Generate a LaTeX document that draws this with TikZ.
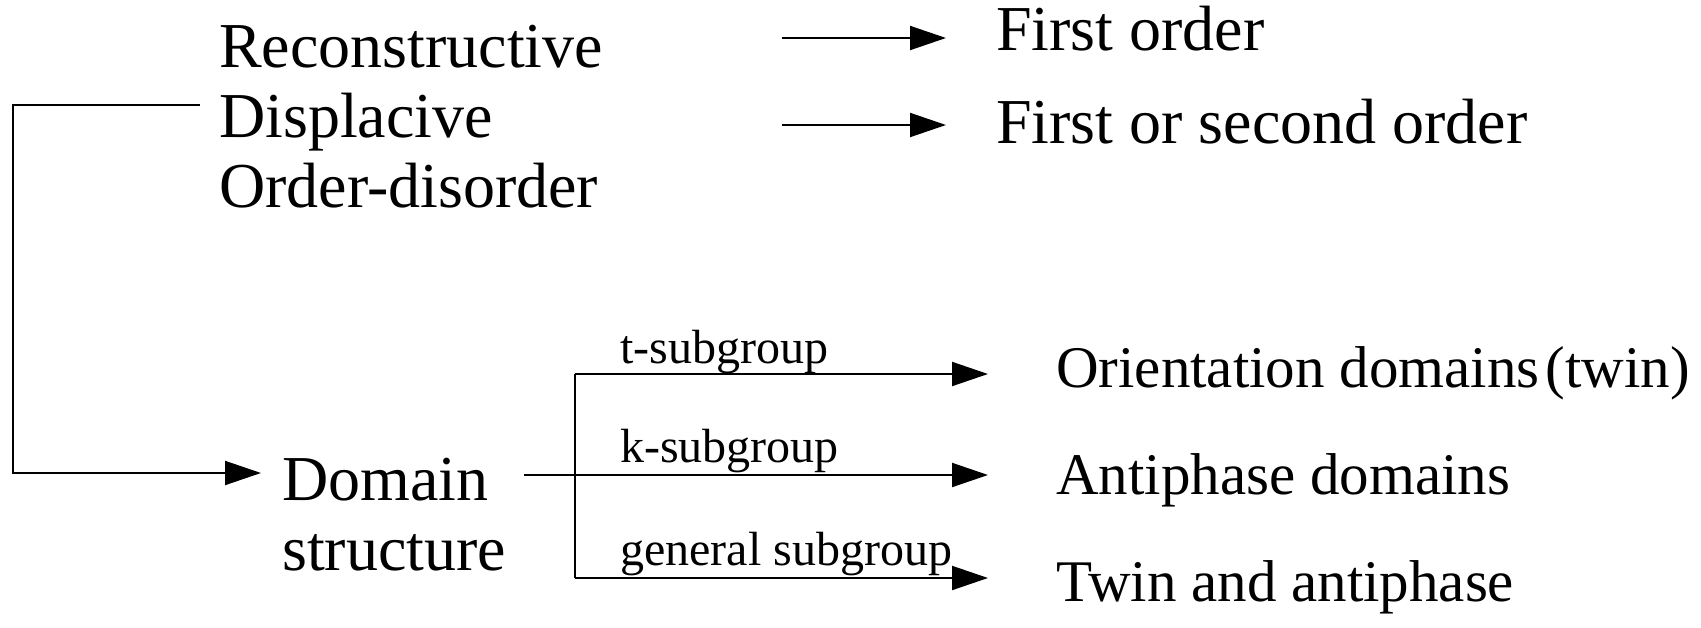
\documentclass[tikz,border=0pt]{standalone}
\usepackage{fontspec}
\setmainfont{Liberation Serif}
\usetikzlibrary{arrows.meta}
\begin{document}
\begin{tikzpicture}[x=1pt,y=-1pt,
  big/.style={anchor=base west,inner sep=0pt,font=\fontsize{64}{70}\selectfont},
  mid/.style={anchor=base west,inner sep=0pt,font=\fontsize{59}{66}\selectfont},
  small/.style={anchor=base west,inner sep=0pt,font=\fontsize{48}{52}\selectfont},
  conn/.style={line width=2pt},
  arr/.style={line width=2pt,-{Triangle[length=36pt,width=24pt]}}]
\useasboundingbox (0,0) rectangle (1701,627);
% left column
\node[big] (rec) at (219,67) {Reconstructive};
\node[big] (dis) at (219,137) {Displacive};
\node[big] (ord) at (219,207) {Order-disorder};
% top right
\node[big] (fo) at (996,50) {First order};
\node[big] (fso) at (996,143) {First or second order};
% domain structure
\node[big] (dom) at (282,500) {Domain};
\node[big] (str) at (282,570) {structure};
% right bottom
\node[mid] (od) at (1056,387) {Orientation domains\kern6pt(twin)};
\node[mid] (ad) at (1056,494) {Antiphase domains};
\node[mid] (ta) at (1056,601) {Twin and antiphase};
% labels
\node[small] (lt) at (620,363) {t-subgroup};
\node[small] (lk) at (620,462) {k-subgroup};
\node[small] (lg) at (620,565) {general subgroup};
% coordinates
\coordinate (a1) at (782,38);
\coordinate (a2) at (782,125);
\coordinate (ls) at (200,105);
\coordinate (lc) at (13,473);
\coordinate (dsout) at (524,475);
\coordinate (brt) at (575,374);
\coordinate (brm) at (575,475);
\coordinate (brb) at (575,578);
% connectors
\draw[arr,shorten >=50pt] (a1) -- (a1 -| fo.west);
\draw[arr,shorten >=50pt] (a2) -- (a2 -| fso.west);
\draw[arr,shorten >=21pt] (ls) -| (lc) -- (lc -| dom.west);
\draw[conn] (brt) -- (brb);
\draw[arr,shorten >=68pt] (dsout) -- (dsout -| ad.west);
\draw[arr,shorten >=68pt] (brt) -- (brt -| od.west);
\draw[arr,shorten >=68pt] (brb) -- (brb -| ta.west);
\end{tikzpicture}
\end{document}
